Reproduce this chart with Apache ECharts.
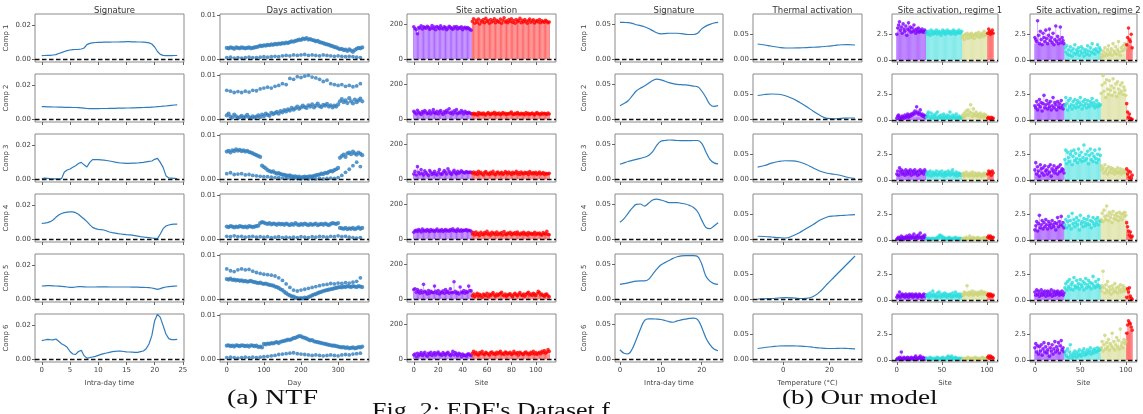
<!DOCTYPE html>
<html><head><meta charset="utf-8">
<script src="https://cdn.jsdelivr.net/npm/echarts@6/dist/echarts.min.js"></script>
<style>html,body{margin:0;padding:0;background:#fff}#c{width:1143px;height:414px}</style>
</head><body><div id="c"></div>
<script>
// ---------- DATA ----------
const compNames = ['Comp 1','Comp 2','Comp 3','Comp 4','Comp 5','Comp 6'];
const colTitles = ['Signature','Days activation','Site activation','Signature','Thermal activation','Site activation, regime 1','Site activation, regime 2'];
const xNames = ['Intra-day time','Day','Site','Intra-day time','Temperature (°C)','Site','Site'];

// NTF signatures (units of 1e-4), half-hourly 0..24
const halfHours = Array.from({length:49},(_,i)=>i/2);
const ntfSig1 = [20,21,22,22,24,26,33,38,45,50,54,56,57,58,60,66,86,94,97,99,100,100,101,101,101,102,102,102,103,103,104,104,103,103,102,102,101,100,97,90,72,45,28,22,20,20,20,21,21];
const ntfSig2 = [74,74,73,73,72,72,71,71,70,70,70,69,69,68,67,65,63,62,62,62,62,63,63,63,64,64,64,65,65,65,66,66,67,67,68,68,69,70,70,71,72,74,75,77,78,80,82,84,85];
const ntfSig3 = [3,5,4,2,1,1,1,2,42,54,60,70,80,93,100,85,72,100,116,116,116,115,113,111,108,105,101,98,96,95,94,94,95,95,96,98,100,103,106,108,118,124,100,70,20,6,5,4,3];
const ntfSig4 = [94,95,98,104,114,130,144,153,158,161,163,163,158,148,134,120,104,86,70,62,58,56,54,48,42,38,35,32,30,28,26,25,23,20,17,14,12,10,8,6,4,2,30,62,78,84,88,89,89];
const ntfSig5 = [78,79,80,80,79,78,77,76,74,72,70,70,72,74,74,73,72,72,72,72,73,73,73,73,72,72,72,72,72,72,72,72,71,71,71,70,70,69,68,66,62,58,62,68,72,74,76,77,78];
const ntfSig6 = [110,114,118,116,115,120,106,92,82,70,45,30,28,45,52,20,5,8,12,16,22,28,32,36,40,44,46,48,47,45,43,42,41,40,40,44,48,62,90,140,230,268,250,200,150,122,116,116,118];

// NTF day activation (units of 1e-4)
const days5 = Array.from({length:74},(_,i)=>i*5);
const days10 = Array.from({length:37},(_,i)=>i*10);
const dayA1 = [25,24,26,25,23,26,25,24,26,25,24,25,26,24,25,26,27, 28,30,29,31,30,32,31,33,32,34,33,35,34,36, 35,37,36,38,40,39,41,42,44,43,46,45,47, 44,45,43,42,40,41,38,37,36,34,33,32,30,29,27, 26,24,22,23,20,21,18,22,19,16,20,23,25,24,26];
const dayB1 = [3,4,2,3,2,3,4,3,3,4,5,4,5,6,5,7,8,7,9,8,9,10,8,9,8,7,9,8,7,6,7,6,5,6,5,4,3];
const dayA2 = [8,12,5,3,10,6,2,4,7,3,5,9,4,2,6,3,5, 8,4,10,6,12,9,7,14,11,13,16,12,18,15, 20,17,22,19,25,21,24,28,23,26,30,27,25, 31,28,33,26,30,35,29,27,32,30,34,28,31,26,30, 28,33,40,45,38,42,36,47,40,35,44,38,42,46,40];
const dayB2 = [65,63,60,62,60,63,61,65,64,68,70,72,70,74,76,80,78,92,90,96,94,97,99,95,93,90,85,88,80,78,76,78,74,76,73,75,80];
const dayA3 = [62,64,60,65,63,67,64,66,63,65,62,64,61,60,58,56,54, 52,50,30,27,24,20,18,16,17,14,12,13,11,10, 9,8,7,8,6,5,6,4,5,3,4,5,4, 5,6,5,7,8,9,10,12,11,14,13,16,18,17,20, 22,25,48,52,55,50,58,60,56,62,58,55,60,57,54];
const dayB3 = [12,14,10,11,12,9,10,8,7,6,5,5,4,3,3,2,2,1,1,1,0,1,0,1,0,1,0,1,2,1,3,8,15,22,30,38,28];
const dayA4 = [28,27,29,28,26,28,27,29,28,27,28,26,29,28,27,28,29, 30,36,38,37,35,34,36,33,35,34,32,35,33,34, 32,35,33,31,34,32,36,33,31,34,32,35,33, 31,34,32,33,35,31,33,34,32,35,33,31,34,36,35, 34,36,25,24,23,25,22,24,23,25,22,24,26,23,25];
const dayB4 = [6,5,7,5,6,4,5,6,4,5,4,5,3,4,5,3,4,3,4,3,5,4,3,5,4,6,5,4,6,5,7,5,6,4,3,2,3];
const dayA5 = [45,44,46,43,44,42,43,41,42,40,41,39,40,41,39,38,37, 36,37,35,34,35,33,32,31,30,28,27,25,22,20, 16,13,10,8,6,5,3,2,1,2,1,3,2, 4,6,8,10,11,13,15,16,18,19,20,21,22,23,24, 25,26,27,26,28,27,29,28,27,29,28,27,29,28,27];
const dayB5 = [68,64,62,66,68,66,67,63,60,58,56,55,54,52,48,42,34,26,20,18,20,22,24,26,28,30,32,33,35,34,36,35,37,36,38,40,48];
const dayA6 = [30,31,29,30,28,31,30,29,31,30,29,30,28,31,30,29,30, 27,28,26,34,33,35,34,36,35,37,38,36,39,40, 41,42,44,43,45,47,48,50,52,51,49,48,46, 44,42,43,40,39,38,37,36,35,34,33,32,31,30,30, 29,28,27,26,27,25,26,24,25,26,24,25,27,26,28];
const dayB6 = [3,4,3,2,3,4,3,4,3,4,5,6,7,8,10,11,12,13,14,12,11,10,9,8,9,8,7,8,9,8,7,9,10,9,11,12,13];

// NTF site activation: sites 0..47 group 0 (purple), 48..111 group 1 (red)
const ntfGroupStarts = [0,48];
const ntfSite1 = [185,175,168,145,180,178,190,172,185,180,176,188,182,170,178,192,175,183,168,186,180,174,190,178,172,185,180,168,176,188,182,175,170,184,178,186,172,180,176,185,168,178,182,174,180,176,170,165, 215,230,205,222,210,228,200,218,212,225,208,232,215,220,205,226,212,218,230,208,222,215,210,228,205,220,235,212,218,208,225,215,230,210,220,205,226,214,218,232,208,222,212,225,215,205,220,228,210,218,224,206,215,220,212,226,208,218,214,210,222,215,208,212];
const ntfSite2 = [45,38,30,52,40,35,28,44,38,50,42,32,36,48,30,40,55,38,34,46,30,42,50,36,28,44,38,52,40,60,35,42,30,48,38,55,32,40,36,50,42,30,45,38,34,40,36,32, 30,35,28,32,25,38,30,34,28,36,30,25,33,38,30,28,35,32,40,28,34,30,36,26,32,38,30,35,28,33,30,36,42,30,28,34,30,38,32,28,35,30,33,26,38,30,34,28,32,36,30,25,34,38,30,32,28,36,30,34,32,28,36,30];
const ntfSite3 = [30,45,25,72,40,30,55,35,25,48,38,30,22,50,40,28,35,45,30,25,40,55,32,28,38,50,42,30,60,45,35,28,40,52,38,30,45,35,40,48,42,38,36,44,40,38,42,40, 35,42,30,38,28,45,33,40,30,25,38,44,30,35,28,40,32,45,30,26,38,42,30,35,40,28,33,44,38,30,42,35,28,40,32,36,45,30,38,28,42,35,30,40,33,38,28,44,36,30,38,32,40,28,35,42,30,33,38,28,35,30,32,34];
const ntfSite4 = [40,48,52,45,55,50,42,58,48,52,46,55,50,44,56,48,52,45,50,58,46,52,48,55,44,50,56,48,52,46,55,50,60,48,52,45,58,50,46,54,48,52,50,56,48,52,50,46, 30,38,25,42,28,35,22,40,30,26,38,32,45,28,35,24,40,30,36,28,42,26,34,30,38,25,44,30,28,36,32,40,26,35,30,38,28,42,32,26,36,30,40,28,34,25,38,30,35,28,32,40,26,34,30,36,28,24,38,32,30,45,28,26];
const ntfSite5 = [55,60,40,55,45,35,50,38,85,45,40,30,50,35,45,40,38,75,45,35,50,30,42,38,48,35,55,40,45,35,60,40,38,100,45,35,40,30,70,42,38,50,35,45,40,75,50,48, 20,30,15,25,35,18,28,22,12,30,25,20,35,15,28,22,30,38,25,18,30,22,28,35,40,25,20,30,18,25,28,32,22,15,28,35,25,20,30,38,25,22,30,18,28,35,40,25,30,22,35,28,20,32,45,38,25,30,22,18,28,30,20,15];
const ntfSite6 = [25,30,15,35,20,28,38,22,30,40,25,18,35,28,40,22,30,38,25,35,42,28,30,22,38,30,25,35,40,28,22,30,45,25,38,30,20,35,28,15,30,22,25,18,28,32,25,20, 35,45,30,40,28,25,38,32,45,30,28,40,35,30,25,38,42,30,35,28,40,32,38,45,30,35,28,42,38,30,35,40,28,32,45,35,30,38,25,40,35,30,28,38,42,30,35,28,40,32,45,30,38,28,35,40,32,45,38,50,35,40,55,45];
const ntfFillLevels = [[172,208],[35,30],[32,28],[44,28],[40,22],[25,28]];

// Our model signatures (units of 1e-3), hourly 0..24
const hours = Array.from({length:25},(_,i)=>i);
const oursSig1 = [52.4,52.2,52.0,51.0,49.0,47.8,46.0,43.5,40.5,37.5,36.0,36.3,36.8,36.8,36.8,36.2,35.4,35.0,35.0,36.8,43.0,47.0,49.5,51.4,52.4];
const oursSig2 = [19.0,22.0,26.0,33.0,40.0,44.0,47.0,51.0,55.0,57.0,56.0,54.0,52.0,50.5,49.5,49.0,48.7,48.0,47.0,46.0,40.0,31.0,21.0,18.0,19.0];
const oursSig3 = [21.0,23.0,25.0,26.5,28.0,29.5,31.0,33.5,39.0,48.0,53.8,55.0,55.7,55.5,55.0,54.8,54.7,54.8,55.0,55.0,51.0,39.0,28.0,23.0,21.7];
const oursSig4 = [23.8,29.0,36.7,44.0,49.5,50.0,47.0,51.0,55.7,57.0,55.7,54.0,52.0,51.9,51.9,51.0,50.0,48.0,45.0,39.0,27.0,16.7,14.8,18.6,23.3];
const oursSig5 = [21.0,22.0,23.0,24.5,25.5,26.0,26.0,28.0,35.3,42.6,48.5,52.0,55.0,58.0,60.3,61.5,62.0,62.0,62.0,60.7,50.0,32.8,25.5,22.0,21.0];
const oursSig6 = [13.2,8.3,7.4,14.2,28.0,42.6,55.0,57.4,57.4,57.0,56.4,55.0,53.4,52.5,54.4,56.0,57.0,58.0,58.4,56.4,45.1,30.4,20.6,14.2,11.8];

// Thermal activation (units of 1e-3)
const temps = [-11,-8,-5,-2,1,4,7,10,13,16,19,22,25,28,31];
const therm1 = [30.0,28.0,25.5,23.5,22.0,22.0,22.3,22.8,23.5,24.4,25.5,27.0,28.5,28.7,28.0];
const therm2 = [47,49,50,49.5,46.5,41,33.5,25,15.5,7,1.2,0.5,1.2,2,2];
const therm3 = [23.6,27,31.8,35,36.5,36.3,34,29,22,15.5,11.5,9.5,7,3,1];
const therm4 = [5.5,5,4,2.8,2,6,12.5,21,29,38,44,46,47,48,48.6];
const therm5 = [0,0.5,1,2,2.8,2.2,1,1.4,4.9,15,30,44,58,72,86];
const therm6 = [21,23,24.5,26,26.3,26.3,25.8,25,23.5,22,21,21,21.5,21,20.3];

// Our model site activation: groups purple 0-32, cyan 33-72, olive 73-100, red 101-107
const oursGroupStarts = [0,33,73,101];
const reg1Site1 = [2.5,3.1,3.4,3.7,2.9,3.2,2.6,3.5,3.0,2.8,3.3,2.4,3.0,3.6,2.9,3.2,2.7,3.1,2.8,3.4,2.9,2.6,3.0,2.8,3.1,2.7,2.9,2.8,3.0,2.7,2.8,2.9,2.7, 2.7,2.5,2.8,2.6,2.4,2.9,2.7,2.5,2.8,2.6,2.7,2.9,2.5,2.7,2.8,2.6,2.4,2.7,2.9,2.6,2.8,2.5,2.7,2.9,2.6,2.8,2.7,2.5,2.8,2.6,2.9,2.7,2.5,2.8,2.6,2.7,2.9,2.6,2.7,2.8, 2.2,2.4,2.0,2.5,2.3,2.6,2.1,2.4,2.5,2.2,2.6,2.3,2.4,2.1,2.5,2.6,2.3,2.4,2.7,2.2,2.5,2.4,2.6,2.3,2.8,2.5,2.4,2.6, 2.6,3.0,2.8,2.5,2.7,2.9,2.6];
const reg1Site2 = [0.2,0.4,0.5,0.1,0.3,0.2,0.4,0.3,0.2,0.5,0.3,0.4,0.6,0.3,0.5,0.4,0.6,0.5,0.7,0.6,0.9,0.7,1.3,0.8,0.6,0.7,1.0,0.5,0.6,0.4,0.5,0.3,0.4, 0.3,0.6,0.8,0.4,0.2,0.7,0.3,0.5,0.2,0.4,0.6,0.3,0.8,0.2,0.4,0.3,0.5,0.2,0.3,0.6,0.4,0.2,0.3,0.5,0.2,0.4,0.8,0.3,0.2,0.5,0.3,0.4,0.2,0.6,0.3,0.2,0.4,0.3,0.2,0.3, 0.5,0.3,0.7,0.4,0.9,0.6,1.0,0.5,0.8,1.5,0.7,0.4,1.1,0.6,0.5,0.8,0.4,0.6,0.5,0.3,0.7,0.4,0.5,0.3,0.6,0.4,0.5,0.3, 0.2,0.3,0.2,0.1,0.3,0.2,0.2];
const reg1Site3 = [0.6,0.9,0.5,1.2,0.8,1.0,0.6,0.9,0.7,0.5,1.0,0.8,0.6,0.9,0.7,1.0,0.5,0.8,0.9,0.6,1.0,0.7,0.8,0.5,0.9,0.6,1.0,0.8,0.7,0.9,0.6,1.0,0.8, 0.6,0.8,0.5,0.7,0.9,0.4,0.6,0.8,0.5,0.7,0.6,0.9,0.5,0.6,0.8,0.7,0.5,0.9,0.6,0.4,0.7,0.8,0.5,0.6,0.9,0.7,0.5,0.8,0.6,1.0,0.7,0.5,0.6,0.8,0.4,0.6,0.7,0.5,0.6,0.5, 0.5,0.7,0.4,0.6,0.8,0.5,0.6,0.4,0.7,0.5,0.6,0.8,0.4,0.5,0.7,0.6,0.4,0.5,0.7,0.6,0.5,0.4,0.6,0.5,0.7,0.5,0.6,0.5, 0.6,0.9,0.7,0.8,0.5,0.9,0.7];
const reg1Site4 = [0.1,0.2,0.3,0.1,0.2,0.4,0.2,0.3,0.1,0.3,0.2,0.4,0.3,0.2,0.5,0.3,0.2,0.4,0.3,0.6,0.2,0.3,0.4,0.2,0.5,0.3,0.7,0.3,0.2,0.4,0.3,0.5,0.2, 0.1,0.2,0.1,0.2,0.1,0.1,0.2,0.1,0.2,0.1,0.1,0.2,0.3,0.2,0.4,0.5,0.3,0.4,0.2,0.3,0.2,0.1,0.2,0.1,0.2,0.3,0.1,0.2,0.1,0.2,0.1,0.2,0.3,0.1,0.2,0.1,0.2,0.1,0.2,0.1, 0.1,0.2,0.1,0.2,0.3,0.1,0.2,0.1,0.4,0.2,0.1,0.2,0.3,0.1,0.2,0.1,0.2,0.3,0.1,0.2,0.1,0.2,0.1,0.2,0.3,0.1,0.2,0.1, 0.3,0.4,0.2,0.4,0.3,0.2,0.3];
const reg1Site5 = [0.3,0.5,0.4,0.8,0.3,0.5,0.6,0.4,0.5,0.3,0.6,0.4,0.5,0.3,0.6,0.5,0.4,0.6,0.3,0.5,0.4,0.6,0.5,0.3,0.4,0.6,0.5,0.4,0.3,0.5,0.6,0.4,0.5, 0.5,0.4,0.6,0.3,0.7,0.5,0.4,0.9,0.6,0.4,0.5,0.3,0.7,0.4,0.8,0.5,0.3,0.6,0.4,0.5,0.7,0.4,0.6,0.3,0.5,0.4,0.6,0.5,0.3,0.7,0.4,0.5,0.8,0.4,0.6,0.5,0.3,0.6,0.4,0.5, 0.6,0.5,0.8,0.7,0.6,1.4,0.7,0.5,0.8,0.6,0.7,0.9,0.5,0.6,0.8,0.7,0.6,0.5,0.8,0.7,0.6,0.9,0.7,0.6,0.8,0.7,0.6,0.7, 0.5,0.6,0.4,0.6,0.5,0.4,0.5];
const reg1Site6 = [0.1,0.2,0.1,0.3,0.2,0.8,0.2,0.1,0.3,0.2,0.1,0.2,0.3,0.1,0.2,0.1,0.3,0.2,0.1,0.2,0.3,0.4,0.2,0.1,0.2,0.3,0.4,0.2,0.1,0.3,0.2,0.1,0.2, 0.2,0.1,0.2,0.1,0.3,0.2,0.1,0.2,0.1,0.2,0.1,0.2,0.3,0.2,0.1,0.2,0.1,0.2,0.3,0.2,0.1,0.2,0.1,0.3,0.4,0.3,0.2,0.3,0.4,0.2,0.1,0.2,0.3,0.2,0.1,0.2,0.1,0.2,0.1,0.2, 0.1,0.2,0.1,0.2,0.1,0.2,0.3,0.1,0.2,0.1,0.2,0.1,0.2,0.1,0.3,0.2,0.1,0.2,0.1,0.2,0.1,0.2,0.3,0.2,0.1,0.2,0.1,0.2, 0.3,0.4,0.2,0.4,0.3,0.3,0.2];
const reg2Site1 = [2.2,2.0,1.8,3.8,2.4,1.6,2.8,2.0,1.5,2.6,2.2,1.8,2.9,2.1,1.6,2.4,3.0,1.9,2.2,1.7,2.6,1.5,2.0,3.3,1.8,2.3,1.6,2.0,3.2,1.7,2.2,1.9,1.6, 1.2,0.8,1.4,0.6,1.0,0.5,1.3,0.9,0.4,1.1,0.7,1.5,0.6,1.0,0.8,1.2,0.5,0.9,1.3,0.7,1.1,0.4,0.8,1.0,0.6,1.4,0.9,0.5,1.2,0.8,1.6,0.7,1.0,0.6,1.1,0.9,1.5,0.8,1.2,1.0, 0.3,0.6,0.9,0.4,1.2,0.7,0.5,1.0,1.4,0.6,0.8,1.1,0.5,1.6,0.9,0.7,1.3,0.6,1.0,1.8,0.8,0.5,1.2,0.9,1.4,1.0,1.6,1.2, 1.5,2.2,3.1,2.0,1.8,2.5,1.2];
const reg2Site2 = [1.4,1.2,1.8,1.0,1.5,2.0,1.3,1.7,0.9,1.6,2.4,1.2,1.5,1.9,1.1,1.6,1.3,1.8,1.0,1.4,2.2,1.2,1.7,1.5,1.0,1.8,1.3,1.6,1.2,1.9,1.4,1.1,1.5, 1.4,2.2,1.6,1.0,1.9,1.3,2.1,1.5,1.1,1.8,1.4,2.0,1.2,1.6,1.9,1.3,1.7,2.2,1.5,1.1,1.8,1.4,2.0,1.6,1.2,1.9,1.5,1.3,1.8,1.6,2.1,1.4,1.7,1.2,1.5,1.9,1.3,1.6,1.4,1.5, 2.6,3.4,4.3,2.8,3.6,2.2,3.9,3.0,2.5,3.8,2.9,3.3,2.4,4.0,3.1,2.7,3.5,2.3,3.7,3.0,2.6,3.4,2.8,3.6,2.5,3.2,2.9,2.4, 1.6,0.8,0.3,0.6,0.2,0.1,0.1];
const reg2Site3 = [1.0,1.7,0.6,1.3,0.9,0.4,1.5,1.1,0.7,1.2,0.5,1.4,0.9,1.0,0.6,1.3,0.8,1.5,0.4,1.1,0.9,1.4,0.7,1.0,1.2,0.6,1.3,0.8,1.5,0.9,1.1,1.0,0.7, 2.0,2.9,1.6,2.7,2.2,1.8,2.5,2.8,1.5,2.3,2.9,1.9,2.6,2.1,1.7,3.0,2.4,2.0,2.7,1.8,2.2,3.4,1.9,2.5,2.1,2.8,1.6,2.4,3.0,2.0,2.6,1.8,2.3,2.9,2.1,1.7,2.5,2.0,3.0,2.4, 1.4,1.0,1.2,0.7,1.5,0.9,1.1,0.6,1.3,0.8,1.0,1.2,0.7,1.1,0.9,0.6,1.0,0.8,1.2,0.7,0.9,1.1,0.6,0.8,1.0,0.7,0.9,0.8, 1.1,0.6,0.9,0.3,0.8,0.2,0.5];
const reg2Site4 = [1.0,1.4,1.8,0.9,1.6,2.4,1.2,1.5,1.9,1.1,1.7,1.3,2.0,1.5,1.1,1.8,1.4,1.6,1.2,1.9,1.5,1.3,1.7,1.0,1.6,2.2,1.3,1.8,1.5,2.3,1.4,1.7,1.2, 1.5,2.0,1.2,1.8,2.3,1.4,1.9,1.1,2.6,1.6,2.0,1.3,1.7,2.2,1.5,1.9,1.0,2.4,1.6,1.8,1.3,2.1,1.7,1.4,2.0,1.6,2.3,1.5,1.9,1.2,1.8,2.2,1.6,1.4,2.0,1.7,2.2,1.5,1.9,1.8, 2.0,2.6,1.8,2.9,2.3,2.0,3.3,2.4,1.9,2.7,2.2,2.5,1.7,2.8,2.1,2.4,2.0,2.6,2.3,1.9,2.7,2.2,2.5,2.0,2.6,2.3,2.7,2.4, 1.7,1.3,0.9,0.5,0.8,0.3,0.4];
const reg2Site5 = [0.8,0.5,1.0,0.6,0.9,0.4,0.7,1.0,0.5,0.8,0.6,0.9,0.4,0.7,0.9,0.5,0.8,0.6,1.0,0.4,0.7,0.9,0.5,0.8,0.6,0.9,0.7,0.5,0.8,0.6,0.9,0.5,0.7, 1.2,1.6,1.0,1.8,1.3,2.0,1.1,1.5,1.7,1.0,2.2,1.4,1.2,1.9,1.3,1.6,1.1,2.0,1.5,1.3,1.8,1.0,1.6,2.1,1.2,1.5,1.9,1.3,1.7,1.1,1.6,2.3,1.4,1.2,1.8,1.3,1.5,2.0,1.4,1.2, 0.9,1.4,2.8,1.2,0.7,1.5,1.0,1.8,0.8,1.3,1.0,0.6,1.4,1.1,0.8,1.6,0.9,1.2,0.7,1.3,1.0,1.5,0.8,1.1,1.4,0.9,1.2,1.0, 0.3,1.1,0.8,1.2,0.4,0.2,0.1];
const reg2Site6 = [1.2,1.6,0.8,1.4,0.6,1.3,0.9,1.5,0.5,1.1,1.7,0.8,1.3,0.7,1.0,1.6,0.4,1.2,0.9,1.5,0.6,1.1,1.8,0.8,1.3,1.0,1.7,0.7,1.4,1.9,1.0,1.2,0.8, 0.6,0.9,0.4,1.1,0.3,0.8,1.5,0.5,0.2,0.7,0.4,0.9,0.6,0.3,0.8,0.5,1.0,0.6,0.4,0.9,0.7,1.1,0.5,0.8,0.6,1.0,0.7,0.9,1.2,0.6,0.8,1.0,0.7,1.1,0.9,0.8,1.2,0.9,1.0,1.1, 1.2,1.8,0.9,1.5,2.4,1.1,1.7,1.3,2.0,1.0,1.6,1.4,2.6,1.2,1.8,1.0,1.5,2.2,1.3,1.9,1.1,3.0,1.4,1.7,1.2,2.0,1.6,1.8, 2.6,3.4,3.8,3.6,3.5,3.2,2.9];
const reg1FillLevels = [[2.8,2.7,2.4,2.6],[0.3,0.3,0.4,0.2],[0.7,0.6,0.5,0.7],[0.2,0.15,0.15,0.3],[0.4,0.45,0.6,0.5],[0.15,0.15,0.15,0.3]];
const reg2FillLevels = [[1.6,0.8,0.6,1.5],[1.3,1.5,2.5,0.3],[0.9,2.0,0.9,0.5],[1.3,1.6,2.0,0.8],[0.7,1.3,0.9,0.4],[1.0,0.7,1.2,2.8]];

// ---------- LAYOUT / STYLE ----------
const FONT = 'DejaVu Sans';
const BLUE = '#2f7dbd';
const rowTops = [14,74,134,194,254,314];
const rowH = 48;
const cols = [
  {left:35, w:149, xmin:-1.2, xmax:25.2, xt:[0,5,10,15,20,25], ymin:-18, ymax:270, yt:[0,200], yf:v=>(v/1e4).toFixed(2)},
  {left:220, w:149, xmin:-18.25, xmax:383.25, xt:[0,100,200,300], ymin:-7, ymax:102, yt:[0,100], yf:v=>(v/1e4).toFixed(2)},
  {left:407, w:149, xmin:-5.55, xmax:116.55, xt:[0,20,40,60,80,100], ymin:-15, ymax:257, yt:[0,200], yf:v=>String(v)},
  {left:615, w:108, xmin:-1.2, xmax:25.2, xt:[0,10,20], ymin:-4.3, ymax:64.3, yt:[0,50], yf:v=>(v/1e3).toFixed(2)},
  {left:753, w:109, xmin:-13, xmax:34, xt:[0,20], ymin:-6, ymax:90, yt:[0,50], yf:v=>(v/1e3).toFixed(2)},
  {left:892, w:106, xmin:-5.35, xmax:112.35, xt:[0,50,100], ymin:-0.16, ymax:4.45, yt:[0,2.5], yf:v=>v.toFixed(1)},
  {left:1030, w:107, xmin:-5.35, xmax:112.35, xt:[0,50,100], ymin:-0.16, ymax:4.45, yt:[0,2.5], yf:v=>v.toFixed(1)}
];
const ntfColors = ['#8000ff','#ff0000'];
const ntfFills = ['#c49bff','#ff9a9a'];
const oursColors = ['#8000ff','#2bdddd','#cdd57a','#ff0000'];
const oursFills = ['#c49bff','#9deeee','#e8ecbf','#ff9a9a'];

const grids = [], xAxes = [], yAxes = [], series = [];
const zeroLine = {silent:true, symbol:['none','none'], label:{show:false},
  lineStyle:{color:'#111', type:[4.5,2.5], width:1.3}, data:[{yAxis:0}]};

function groupOf(i, starts){ let g=0; for(let k=0;k<starts.length;k++) if(i>=starts[k]) g=k; return g; }

function addSiteSeries(idx, vals, starts, colors, fills, levels){
  const data = vals.map((v,i)=>[i, v, groupOf(i,starts)]);
  series.push({type:'custom', xAxisIndex:idx, yAxisIndex:idx, clip:true, z:2,
    renderItem:function(params, api){
      const x=api.value(0), v=api.value(1), g=api.value(2);
      const h=Math.min(v, levels[g]);
      const a=api.coord([x-0.42, h]), b=api.coord([x+0.42, 0]);
      const base=api.coord([x,0]), top=api.coord([x,v]);
      return {type:'group', children:[
        {type:'rect', shape:{x:a[0], y:a[1], width:b[0]-a[0], height:b[1]-a[1]}, style:{fill:fills[g]}},
        {type:'line', shape:{x1:base[0], y1:base[1], x2:top[0], y2:top[1]}, style:{stroke:colors[g], lineWidth:0.6, opacity:0.55}}
      ]};
    },
    data:data, markLine:zeroLine});
  series.push({type:'scatter', xAxisIndex:idx, yAxisIndex:idx, z:3, symbolSize:3.6,
    itemStyle:{color:p=>colors[p.value[2]]}, data:data});
}

const ntfSigs=[ntfSig1,ntfSig2,ntfSig3,ntfSig4,ntfSig5,ntfSig6];
const dayAs=[dayA1,dayA2,dayA3,dayA4,dayA5,dayA6];
const dayBs=[dayB1,dayB2,dayB3,dayB4,dayB5,dayB6];
const ntfSites=[ntfSite1,ntfSite2,ntfSite3,ntfSite4,ntfSite5,ntfSite6];
const oursSigs=[oursSig1,oursSig2,oursSig3,oursSig4,oursSig5,oursSig6];
const therms=[therm1,therm2,therm3,therm4,therm5,therm6];
const reg1=[reg1Site1,reg1Site2,reg1Site3,reg1Site4,reg1Site5,reg1Site6];
const reg2=[reg2Site1,reg2Site2,reg2Site3,reg2Site4,reg2Site5,reg2Site6];

let idx=0;
for(let r=0;r<6;r++){
  for(let c=0;c<7;c++){
    const C=cols[c], bottom=(r===5);
    grids.push({left:C.left, top:rowTops[r], width:C.w, height:rowH, show:true, borderColor:'#8a8a8a', borderWidth:1, backgroundColor:'#fff'});
    xAxes.push({type:'value', gridIndex:idx, min:C.xmin, max:C.xmax,
      axisLine:{show:false, onZero:false}, splitLine:{show:false},
      axisTick:{show:true, customValues:C.xt, length:3, lineStyle:{color:'#666', width:1}},
      axisLabel:{show:bottom, customValues:C.xt, fontSize:7, color:'#444', margin:5, fontFamily:FONT},
      name: bottom ? xNames[c] : '', nameLocation:'middle', nameGap:18,
      nameTextStyle:{fontSize:7, color:'#444', fontFamily:FONT}});
    yAxes.push({type:'value', gridIndex:idx, min:C.ymin, max:C.ymax,
      axisLine:{show:false, onZero:false}, splitLine:{show:false},
      axisTick:{show:true, customValues:C.yt, length:3, lineStyle:{color:'#666', width:1}},
      axisLabel:{show:true, customValues:C.yt, fontSize:7, color:'#444', margin:4, fontFamily:FONT, formatter:C.yf},
      name: (c===0||c===3) ? compNames[r] : '', nameLocation:'middle', nameRotate:90, nameGap:(c===0?25:27),
      nameTextStyle:{fontSize:7, color:'#444', fontFamily:FONT}});
    if(c===0){
      series.push({type:'line', xAxisIndex:idx, yAxisIndex:idx, showSymbol:false, z:3,
        lineStyle:{color:BLUE, width:1.2}, data:ntfSigs[r].map((v,i)=>[halfHours[i],v]), markLine:zeroLine});
    } else if(c===1){
      series.push({type:'scatter', xAxisIndex:idx, yAxisIndex:idx, symbolSize:4.2, z:3,
        itemStyle:{color:BLUE}, data:dayAs[r].map((v,i)=>[days5[i],v]), markLine:zeroLine});
      series.push({type:'scatter', xAxisIndex:idx, yAxisIndex:idx, symbolSize:3.8, z:3,
        itemStyle:{color:BLUE}, data:dayBs[r].map((v,i)=>[days10[i],v])});
    } else if(c===2){
      addSiteSeries(idx, ntfSites[r], ntfGroupStarts, ntfColors, ntfFills, ntfFillLevels[r]);
    } else if(c===3){
      series.push({type:'line', xAxisIndex:idx, yAxisIndex:idx, showSymbol:false, smooth:0.4, z:3,
        lineStyle:{color:BLUE, width:1.2}, data:oursSigs[r].map((v,i)=>[hours[i],v]), markLine:zeroLine});
    } else if(c===4){
      series.push({type:'line', xAxisIndex:idx, yAxisIndex:idx, showSymbol:false, smooth:0.4, z:3,
        lineStyle:{color:BLUE, width:1.2}, data:therms[r].map((v,i)=>[temps[i],v]), markLine:zeroLine});
    } else if(c===5){
      addSiteSeries(idx, reg1[r], oursGroupStarts, oursColors, oursFills, reg1FillLevels[r]);
    } else {
      addSiteSeries(idx, reg2[r], oursGroupStarts, oursColors, oursFills, reg2FillLevels[r]);
    }
    idx++;
  }
}

const titles = cols.map((C,c)=>({text:colTitles[c], left:C.left+C.w/2, top:1, textAlign:'center',
  textStyle:{fontSize:8.5, fontWeight:'normal', color:'#333', fontFamily:FONT}}));

const SERIF = '20px "Liberation Serif", "DejaVu Serif", serif';
const chart = echarts.init(document.getElementById('c'), null, {renderer:'canvas'});
chart.setOption({
  animation:false, backgroundColor:'#fff',
  title:titles, grid:grids, xAxis:xAxes, yAxis:yAxes, series:series,
  graphic:[
    {type:'text', x:227, y:389, scaleX:1.4, style:{text:'(a) NTF', font:SERIF, fill:'#111'}},
    {type:'text', x:782, y:389, scaleX:1.36, style:{text:'(b) Our model', font:SERIF, fill:'#111'}},
    {type:'text', x:372, y:402, scaleX:1.3, style:{text:"Fig. 2: EDF's Dataset f", font:SERIF, fill:'#111'}}
  ]
});
</script></body></html>
